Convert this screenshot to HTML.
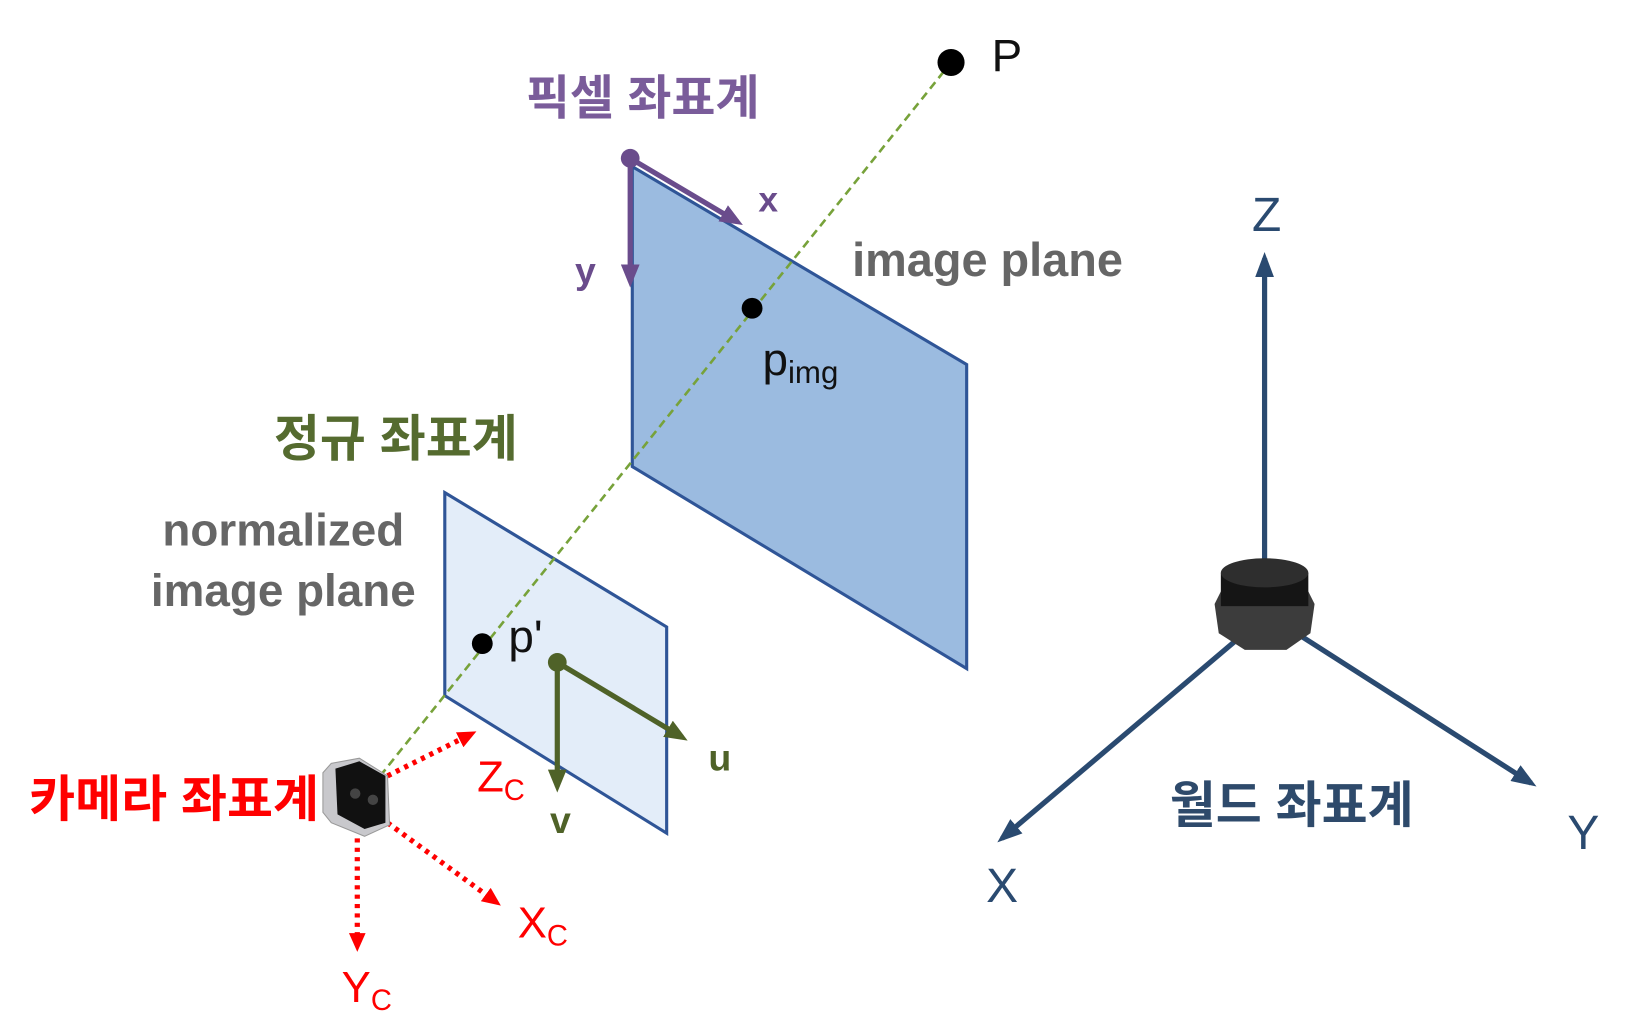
<!DOCTYPE html>
<html><head><meta charset="utf-8"><style>
html,body{margin:0;padding:0;background:#fff;}
svg{display:block;}
text{font-family:"Liberation Sans","Noto Sans CJK KR",sans-serif;}
</style></head><body>
<svg width="1625" height="1030" viewBox="0 0 1560 989" preserveAspectRatio="none">
<defs>
<marker id="ap" markerWidth="22" markerHeight="18" refX="16" refY="9" orient="auto" markerUnits="userSpaceOnUse"><path d="M0,0 L22,9 L0,18 z" fill="#6a4c8c"/></marker>
<marker id="ag" markerWidth="22" markerHeight="18" refX="16" refY="9" orient="auto" markerUnits="userSpaceOnUse"><path d="M0,0 L22,9 L0,18 z" fill="#4f6228"/></marker>
<marker id="ar" markerWidth="18" markerHeight="16" refX="12" refY="8" orient="auto" markerUnits="userSpaceOnUse"><path d="M0,0 L18,8 L0,16 z" fill="#ff0000"/></marker>
<marker id="ab" markerWidth="24" markerHeight="18" refX="18" refY="9" orient="auto" markerUnits="userSpaceOnUse"><path d="M0,0 L24,9 L0,18 z" fill="#2a4a70"/></marker>
</defs>

<polygon points="607,160 928,350 928,642 607,448" fill="#9bbbe0" stroke="#2f5597" stroke-width="3"/>
<polygon points="427,473 640,602 640,800 427,668" fill="#e3edf9" stroke="#2f5597" stroke-width="3"/>

<line x1="365" y1="745" x2="913" y2="60" stroke="#77a23a" stroke-width="2.5" stroke-dasharray="8,5"/>

<circle cx="913" cy="60" r="13" fill="#000"/>
<text x="952" y="68" font-size="44" fill="#111">P</text>

<text x="617" y="110" font-size="46" font-weight="bold" fill="#7a5c9a" text-anchor="middle">픽셀 좌표계</text>
<line x1="605" y1="152" x2="708" y2="213" stroke="#6a4c8c" stroke-width="5" marker-end="url(#ap)"/>
<line x1="605" y1="152" x2="605" y2="270" stroke="#6a4c8c" stroke-width="5" marker-end="url(#ap)"/>
<circle cx="605" cy="152" r="9" fill="#6a4c8c"/>
<text x="728" y="203" font-size="34" font-weight="bold" fill="#6a4c8c">x</text>
<text x="552" y="272" font-size="36" font-weight="bold" fill="#6a4c8c">y</text>

<text x="818" y="265" font-size="45" font-weight="bold" fill="#666">image plane</text>
<circle cx="722" cy="296" r="10" fill="#000"/>
<text x="732" y="360" font-size="44" fill="#111">p<tspan font-size="30" dy="8">img</tspan></text>

<text x="380" y="438" font-size="48" font-weight="bold" fill="#556b2f" text-anchor="middle">정규 좌표계</text>
<text x="272" y="524" font-size="44" font-weight="bold" fill="#666" text-anchor="middle">normalized</text>
<text x="272" y="582" font-size="44" font-weight="bold" fill="#666" text-anchor="middle">image plane</text>

<circle cx="463" cy="618" r="10" fill="#000"/>
<text x="488" y="626" font-size="44" fill="#111">p'</text>

<line x1="535" y1="636" x2="655" y2="708" stroke="#4f6228" stroke-width="5" marker-end="url(#ag)"/>
<line x1="535" y1="636" x2="535" y2="755" stroke="#4f6228" stroke-width="5" marker-end="url(#ag)"/>
<circle cx="535" cy="636" r="9" fill="#4f6228"/>
<text x="680" y="740" font-size="36" font-weight="bold" fill="#4f6228">u</text>
<text x="528" y="800" font-size="36" font-weight="bold" fill="#4f6228">v</text>

<g stroke="#ff0000" stroke-width="5" stroke-dasharray="4,5" fill="none">
<line x1="372" y1="745" x2="452" y2="705" marker-end="url(#ar)"/>
<line x1="372" y1="790" x2="476" y2="866" marker-end="url(#ar)"/>
<line x1="343" y1="805" x2="343" y2="908" marker-end="url(#ar)"/>
</g>
<text x="458" y="760" font-size="42" fill="#ff0000">Z<tspan font-size="28" dy="8">C</tspan></text>
<text x="497" y="900" font-size="42" fill="#ff0000">X<tspan font-size="28" dy="8">C</tspan></text>
<text x="328" y="962" font-size="42" fill="#ff0000">Y<tspan font-size="28" dy="8">C</tspan></text>
<text x="28" y="784" font-size="48" font-weight="bold" fill="#ff0000">카메라 좌표계</text>

<g>
<path d="M310,742 L318,733 L345,728 L372,745 L374,792 L350,803 L318,790 L310,780 z" fill="#c8c8cc" stroke="#999" stroke-width="1"/>
<path d="M322,738 L345,731 L370,745 L370,790 L350,796 L324,782 z" fill="#111"/>
<circle cx="341" cy="762" r="5" fill="#444"/><circle cx="358" cy="768" r="5" fill="#444"/>
</g>

<line x1="1214" y1="545" x2="1214" y2="248" stroke="#2a4a70" stroke-width="5" marker-end="url(#ab)"/>
<line x1="1190" y1="612" x2="962" y2="805" stroke="#2a4a70" stroke-width="5" marker-end="url(#ab)"/>
<line x1="1240" y1="605" x2="1470" y2="752" stroke="#2a4a70" stroke-width="5" marker-end="url(#ab)"/>
<g>
<path d="M1166,580 L1172,568 L1256,568 L1262,580 L1258,608 L1235,624 L1195,624 L1170,608 z" fill="#3c3c3c"/>
<rect x="1172" y="550" width="84" height="32" fill="#151515"/>
<ellipse cx="1214" cy="550" rx="42" ry="14" fill="#2e2e2e"/>
</g>
<text x="1216" y="222" font-size="46" fill="#2a4a70" text-anchor="middle">Z</text>
<text x="962" y="866" font-size="46" fill="#2a4a70" text-anchor="middle">X</text>
<text x="1520" y="815" font-size="46" fill="#2a4a70" text-anchor="middle">Y</text>
<text x="1240" y="790" font-size="48" font-weight="bold" fill="#2e4a6b" text-anchor="middle">월드 좌표계</text>
</svg>
</body></html>
